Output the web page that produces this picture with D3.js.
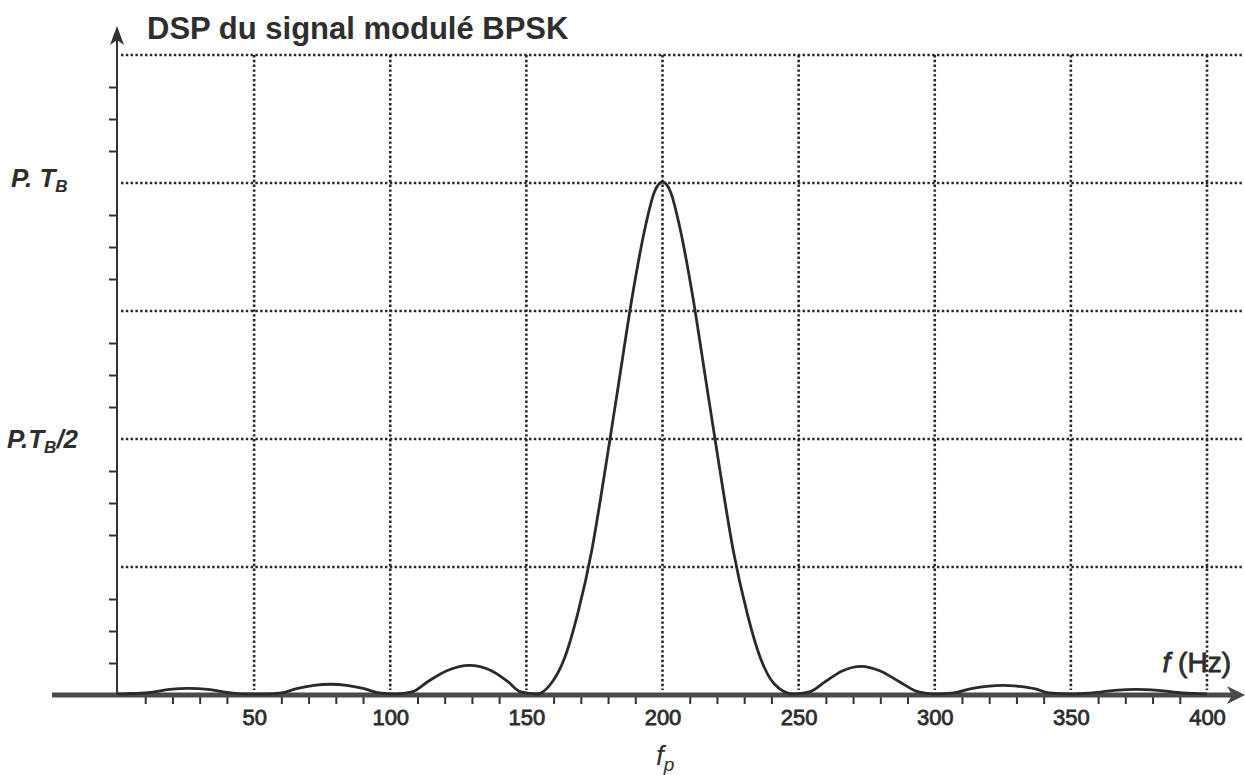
<!DOCTYPE html>
<html>
<head>
<meta charset="utf-8">
<script src="https://cdn.jsdelivr.net/npm/d3@7"></script>
<style>
  html, body { margin: 0; padding: 0; background: #fff; }
  svg { display: block; }
  text { font-family: "Liberation Sans", Arial, sans-serif; fill: #2e2e2e; }
</style>
</head>
<body>
<svg id="chart" width="1245" height="775"></svg>
<script>
// frequency (Hz) and PSD, in units of P.T_B
var freqs = [0, 5, 12, 19, 26, 33, 40, 47, 55, 60, 66, 72, 78, 84, 90, 96, 102,
  108, 114, 121, 129, 137, 143, 148, 154, 159, 164, 169, 174, 179, 184, 189, 194, 197,
  200, 203, 206, 211, 216, 221, 226, 231, 236, 241, 248, 254, 260, 266, 273, 280, 287,
  294, 300, 307, 313, 319, 325, 331, 337, 342, 350, 358, 366, 374, 382, 391, 400];
var psd = [0, 0.001, 0.003, 0.009, 0.011, 0.009, 0.003, 0, 0, 0.002, 0.011, 0.017, 0.019, 0.017, 0.011, 0.002, 0,
  0.004, 0.025, 0.046, 0.056, 0.046, 0.025, 0.004, 0, 0.02, 0.07, 0.16, 0.28, 0.44, 0.61, 0.78, 0.92, 0.98,
  1.0, 0.98, 0.92, 0.78, 0.61, 0.44, 0.28, 0.16, 0.07, 0.02, 0, 0.004, 0.025, 0.045, 0.054, 0.045, 0.024,
  0.004, 0, 0.002, 0.01, 0.015, 0.017, 0.015, 0.01, 0.002, 0, 0.002, 0.007, 0.009, 0.007, 0.002, 0];

var xLabels = [50, 100, 150, 200, 250, 300, 350, 400];
var xMinor = d3.range(10, 400, 10).filter(function(v) { return v % 50 != 0; });
var yGrid = [0.25, 0.5, 0.75, 1.0, 1.25];
var yMinor = d3.range(1, 20).map(function(i) { return i / 16; }).filter(function(v) { return (v * 4) % 1 != 0; });

var svg = d3.select("#chart");
var xScale = d3.scaleLinear().domain([0, 400]).range([118, 1207]);
var yScale = d3.scaleLinear().domain([0, 1]).range([695, 183]);
var ink = "#333";

// dotted grid
var grid = svg.append("g").attr("stroke", "#262626").attr("stroke-width", 2.6).attr("stroke-dasharray", "2.4,2.4");
grid.selectAll("line.h").data(yGrid).enter().append("line")
  .attr("x1", 121).attr("x2", 1243)
  .attr("y1", function(d) { return yScale(d); }).attr("y2", function(d) { return yScale(d); });
grid.selectAll("line.v").data(xLabels).enter().append("line")
  .attr("x1", function(d) { return xScale(d); }).attr("x2", function(d) { return xScale(d); })
  .attr("y1", yScale(1.25)).attr("y2", 690);

// minor ticks under the x axis
var xTicks = svg.append("g").attr("transform", "translate(0," + (yScale(0) + 2) + ")")
  .call(d3.axisBottom(xScale).tickValues(xMinor).tickSize(7).tickFormat(""));
xTicks.select(".domain").remove();
xTicks.selectAll("line").attr("stroke", ink).attr("stroke-width", 2);

// labels of the x axis
var xText = svg.append("g").attr("transform", "translate(0," + yScale(0) + ")")
  .call(d3.axisBottom(xScale).tickValues(xLabels).tickSize(0).tickPadding(14));
xText.select(".domain").remove();
xText.selectAll("text").attr("font-size", 22).attr("font-family", "Liberation Sans, Arial, sans-serif")
  .attr("fill", "#2a2a2a").attr("stroke", "#2a2a2a").attr("stroke-width", 0.8);

// minor ticks on the y axis
var yTicks = svg.append("g").attr("transform", "translate(117,0)")
  .call(d3.axisLeft(yScale).tickValues(yMinor).tickSize(8).tickFormat(""));
yTicks.select(".domain").remove();
yTicks.selectAll("line").attr("stroke", ink).attr("stroke-width", 2);

// x axis: thick bar with arrow
svg.append("line").attr("x1", 52).attr("x2", 1232)
  .attr("y1", yScale(0)).attr("y2", yScale(0))
  .attr("stroke", "#4a4a4a").attr("stroke-width", 5);
svg.append("path")
  .attr("d", "M1245," + yScale(0) + " L1227," + (yScale(0) - 9) + " L1232," + yScale(0) + " L1227," + (yScale(0) + 9) + " Z")
  .attr("fill", "#4a4a4a");

// y axis with arrow
svg.append("line").attr("x1", 117).attr("x2", 117).attr("y1", yScale(0)).attr("y2", 32)
  .attr("stroke", ink).attr("stroke-width", 2);
svg.append("path").attr("d", "M117,26 L110,45 L117,40 L124,45 Z").attr("fill", ink);

// spectrum
var line = d3.line()
  .x(function(d, i) { return xScale(freqs[i]); })
  .y(function(d) { return yScale(d) - 1; })
  .curve(d3.curveMonotoneX);
svg.append("path").datum(psd).attr("d", line)
  .attr("fill", "none").attr("stroke", "#2a2a2a").attr("stroke-width", 2.8);

// texts
svg.append("text").attr("x", 147).attr("y", 39).attr("font-size", 31).attr("font-weight", "bold")
  .text("DSP du signal modulé BPSK");

var t1 = svg.append("text").attr("x", 11).attr("y", 187).attr("font-size", 26)
  .attr("font-weight", "bold").attr("font-style", "italic");
t1.append("tspan").text("P. T");
t1.append("tspan").attr("font-size", 17).attr("dy", 5).text("B");

var t2 = svg.append("text").attr("x", 7).attr("y", 448).attr("font-size", 26)
  .attr("font-weight", "bold").attr("font-style", "italic");
t2.append("tspan").text("P.T");
t2.append("tspan").attr("font-size", 17).attr("dy", 5).text("B");
t2.append("tspan").attr("dy", -5).text("/2");

var fl = svg.append("text").attr("x", 1231).attr("y", 672).attr("font-size", 28)
  .attr("text-anchor", "end").attr("stroke", "#2a2a2a").attr("stroke-width", 0.8);
fl.append("tspan").attr("font-style", "italic").text("f");
fl.append("tspan").text(" (Hz)");

var fp = svg.append("text").attr("x", 656).attr("y", 765).attr("font-size", 28).attr("font-style", "italic");
fp.append("tspan").text("f");
fp.append("tspan").attr("font-size", 19).attr("dy", 6).text("p");
</script>
</body>
</html>
